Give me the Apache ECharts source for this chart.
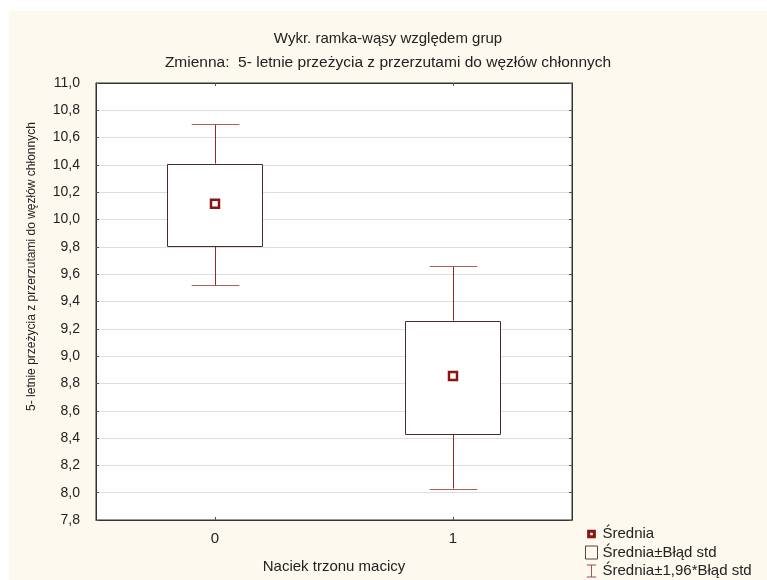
<!DOCTYPE html>
<html>
<head>
<meta charset="utf-8">
<script src="https://cdn.jsdelivr.net/npm/echarts@6/dist/echarts.min.js"></script>
<style>
html,body{margin:0;padding:0;background:#fff;}
#wrap{position:relative;width:767px;height:580px;background:#fff;overflow:hidden;}
#chart{position:absolute;left:9px;top:11px;width:758px;height:569px;}
</style>
</head>
<body>
<div id="wrap"><div id="chart"></div></div>
<script>
const categories = ['0', '1'];
const means = [10.115, 8.855];
const seLow = [9.81, 8.43];
const seHigh = [10.41, 9.26];
const ciLow = [9.52, 8.03];
const ciHigh = [10.70, 9.66];
const titleText = 'Wykr. ramka-wąsy względem grup';
const subtitleText = 'Zmienna:  5- letnie przeżycia z przerzutami do węzłów chłonnych';
const yName = '5- letnie przeżycia z przerzutami do węzłów chłonnych';
const xName = 'Naciek trzonu macicy';
const legendNames = ['Średnia', 'Średnia±Błąd std', 'Średnia±1,96*Błąd std'];

const FONT = '"Liberation Sans", Arial, sans-serif';
const TXT = '#222';
const chart = echarts.init(document.getElementById('chart'), null, {renderer: 'canvas'});

const boxData = categories.map((c, i) => [i, seLow[i], seHigh[i]]);
const whiskData = categories.map((c, i) => [i, ciLow[i], ciHigh[i], seLow[i], seHigh[i]]);
const meanData = categories.map((c, i) => [i, means[i]]);

const option = {
  backgroundColor: '#fdf9ee',
  animation: false,
  textStyle: {fontFamily: FONT},
  title: [
    {text: titleText, left: 'center', top: 15, textStyle: {fontFamily: FONT, fontSize: 15, fontWeight: 'normal', color: TXT}},
    {text: subtitleText, left: 'center', top: 39, textStyle: {fontFamily: FONT, fontSize: 15.5, fontWeight: 'normal', color: TXT}}
  ],
  grid: {left: 87, top: 72, right: 195, bottom: 60, show: true, backgroundColor: '#ffffff', borderColor: '#333', borderWidth: 1},
  legend: {
    orient: 'vertical', left: 576, top: 515, height: 80, padding: 0, itemWidth: 12, itemHeight: 13, itemGap: 2.5,
    textStyle: {fontFamily: FONT, fontSize: 15, color: TXT, lineHeight: 16},
    selectedMode: false,
    data: [
      {name: legendNames[0], icon: 'path://M0,0 M11,11 M1.5,1.5 L9.5,1.5 L9.5,9.5 L1.5,9.5 Z M4.3,4.3 L4.3,6.7 L6.7,6.7 L6.7,4.3 Z', itemStyle: {color: '#8b1414', borderWidth: 0}},
      {name: legendNames[1], icon: 'rect', itemStyle: {color: 'transparent', borderColor: '#5a4040', borderWidth: 1}},
      {name: legendNames[2], icon: 'path://M0,0 L10,0 L10,1 L5.5,1 L5.5,13 L10,13 L10,14 L0,14 L0,13 L4.5,13 L4.5,1 L0,1 Z', itemStyle: {color: '#a04a4a', borderWidth: 0}}
    ]
  },
  xAxis: [
    {type: 'category', data: categories, boundaryGap: true, name: xName, nameLocation: 'middle', nameGap: 39,
      nameTextStyle: {fontFamily: FONT, fontSize: 15, color: TXT},
      axisLine: {show: true, lineStyle: {color: '#333'}},
      axisTick: {show: true, inside: true, length: 3, alignWithLabel: true, lineStyle: {color: '#555'}},
      axisLabel: {fontFamily: FONT, fontSize: 15, color: TXT, margin: 11},
      splitLine: {show: false}},
    {type: 'category', data: categories, position: 'top', boundaryGap: true,
      axisLine: {show: true, lineStyle: {color: '#333'}},
      axisTick: {show: true, inside: true, length: 3, alignWithLabel: true, lineStyle: {color: '#555'}},
      axisLabel: {show: false}, splitLine: {show: false}}
  ],
  yAxis: [
    {type: 'value', min: 7.8, max: 11.0, interval: 0.2, name: yName, nameLocation: 'middle', nameGap: 58,
      nameTextStyle: {fontFamily: FONT, fontSize: 12, color: TXT, padding: [0, 0, 0, 70]},
      axisLine: {show: true, lineStyle: {color: '#333'}},
      axisTick: {show: true, inside: true, length: 3, lineStyle: {color: '#555'}},
      axisLabel: {fontFamily: FONT, fontSize: 14, color: TXT, margin: 16,
        formatter: v => (Math.round(v * 10) / 10).toFixed(1).replace('.', ',')},
      splitLine: {show: true, lineStyle: {color: '#dedede', width: 1}}},
    {type: 'value', min: 7.8, max: 11.0, interval: 0.2, position: 'right',
      axisLine: {show: true, lineStyle: {color: '#333'}},
      axisTick: {show: true, inside: true, length: 3, lineStyle: {color: '#555'}},
      axisLabel: {show: false}, splitLine: {show: false}}
  ],
  series: [
    {
      name: legendNames[2], type: 'custom', z: 3,
      renderItem: function (params, api) {
        const x = api.value(0);
        const lo = api.coord([x, api.value(1)]);
        const hi = api.coord([x, api.value(2)]);
        const bl = api.coord([x, api.value(3)]);
        const bh = api.coord([x, api.value(4)]);
        const bw = api.size([1, 0])[0];
        const half = bw * 0.1;
        const cx = Math.round(lo[0]) + 0.5;
        const vstyle = {stroke: '#8e2c2c', lineWidth: 1, fill: null};
        const cstyle = {stroke: '#b05c5c', lineWidth: 1.2, fill: null};
        return {type: 'group', children: [
          {type: 'line', shape: {x1: cx, y1: hi[1], x2: cx, y2: bh[1]}, style: vstyle},
          {type: 'line', shape: {x1: cx, y1: bl[1], x2: cx, y2: lo[1]}, style: vstyle},
          {type: 'line', shape: {x1: cx - half, y1: Math.round(hi[1]) + 0.5, x2: cx + half, y2: Math.round(hi[1]) + 0.5}, style: cstyle},
          {type: 'line', shape: {x1: cx - half, y1: Math.round(lo[1]) + 0.5, x2: cx + half, y2: Math.round(lo[1]) + 0.5}, style: cstyle}
        ]};
      },
      encode: {x: 0, y: [1, 2]},
      data: whiskData
    },
    {
      name: legendNames[1], type: 'custom', z: 4,
      renderItem: function (params, api) {
        const x = api.value(0);
        const lo = api.coord([x, api.value(1)]);
        const hi = api.coord([x, api.value(2)]);
        const bw = api.size([1, 0])[0];
        const half = bw * 0.2;
        const x0 = Math.round(lo[0] - half) + 0.5;
        const y0 = Math.round(hi[1]) + 0.5;
        return {type: 'rect', shape: {x: x0, y: y0, width: Math.round(half * 2), height: Math.round(lo[1] - hi[1])},
          style: {fill: '#ffffff', stroke: '#4a2a2a', lineWidth: 1}};
      },
      encode: {x: 0, y: [1, 2]},
      data: boxData
    },
    {
      name: legendNames[0], type: 'scatter', z: 5,
      symbol: 'rect', symbolSize: 8,
      itemStyle: {color: '#ffffff', borderColor: '#8b1414', borderWidth: 2.5, opacity: 1},
      data: meanData
    }
  ]
};
chart.setOption(option);
</script>
</body>
</html>
